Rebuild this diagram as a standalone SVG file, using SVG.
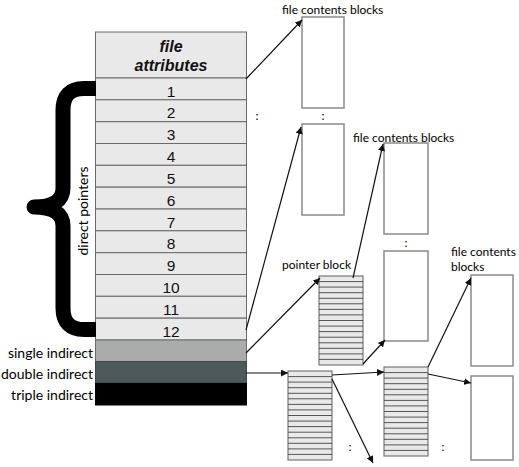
<svg xmlns="http://www.w3.org/2000/svg" xmlns:xlink="http://www.w3.org/1999/xlink" width="519" height="467" viewBox="0 0 519 467">
<style>
.row{fill:#e9e9e9;stroke:#6a6a6a;stroke-width:1}
.num{font-family:"Liberation Sans",Arial,sans-serif;font-size:15.5px;fill:#111;text-anchor:middle}
.attr{font-family:"Liberation Sans",Arial,sans-serif;font-size:16px;font-weight:bold;font-style:italic;fill:#111;text-anchor:middle}
.lbl{font-family:Lato,"Open Sans",sans-serif;font-size:12px;fill:#000}
.side{font-family:Lato,"Open Sans",sans-serif;font-size:14px;fill:#000;text-anchor:end}
.blk{fill:#fff;stroke:#8a8a8a;stroke-width:1.5}
.pb{fill:#e9e9e9;stroke:#777;stroke-width:1.2}
.pl{stroke:#444;stroke-width:0.9}
.con{stroke:#111;stroke-width:1.2;fill:none;marker-end:url(#ah)}
.brace{fill:none;stroke:#000;stroke-width:15;stroke-linejoin:round}
</style>
<defs>
<marker id="ah" viewBox="0 0 10 10" refX="10" refY="5" markerWidth="7" markerHeight="7" markerUnits="userSpaceOnUse" orient="auto">
<path d="M0,0 L10,5 L0,10 z" fill="#111"/>
</marker>
<g id="pblock">
<rect class="pb" x="0" y="0" width="44" height="89"/>
<line class="pl" x1="0" y1="5.6" x2="44" y2="5.6" stroke="#999"/>
<line class="pl" x1="0" y1="11.1" x2="44" y2="11.1"/>
<line class="pl" x1="0" y1="16.7" x2="44" y2="16.7"/>
<line class="pl" x1="0" y1="22.3" x2="44" y2="22.3"/>
<line class="pl" x1="0" y1="27.8" x2="44" y2="27.8"/>
<line class="pl" x1="0" y1="33.4" x2="44" y2="33.4"/>
<line class="pl" x1="0" y1="38.9" x2="44" y2="38.9"/>
<line class="pl" x1="0" y1="44.5" x2="44" y2="44.5"/>
<line class="pl" x1="0" y1="50.1" x2="44" y2="50.1"/>
<line class="pl" x1="0" y1="55.6" x2="44" y2="55.6"/>
<line class="pl" x1="0" y1="61.2" x2="44" y2="61.2"/>
<line class="pl" x1="0" y1="66.8" x2="44" y2="66.8"/>
<line class="pl" x1="0" y1="72.3" x2="44" y2="72.3"/>
<line class="pl" x1="0" y1="77.9" x2="44" y2="77.9"/>
<line class="pl" x1="0" y1="83.4" x2="44" y2="83.4"/>
</g>
</defs>
<rect width="519" height="467" fill="#fff"/>

<g id="inode">
<rect class="row" x="95.5" y="32" width="151" height="46"/>
<text class="attr" x="171" y="52">file</text>
<text class="attr" x="171" y="71">attributes</text>
<rect class="row" x="95.5" y="78" width="151" height="21.8"/><text class="num" x="171" y="96.5">1</text>
<rect class="row" x="95.5" y="99.8" width="151" height="21.8"/><text class="num" x="171" y="118.3">2</text>
<rect class="row" x="95.5" y="121.7" width="151" height="21.8"/><text class="num" x="171" y="140.2">3</text>
<rect class="row" x="95.5" y="143.5" width="151" height="21.8"/><text class="num" x="171" y="162">4</text>
<rect class="row" x="95.5" y="165.3" width="151" height="21.8"/><text class="num" x="171" y="183.8">5</text>
<rect class="row" x="95.5" y="187.2" width="151" height="21.8"/><text class="num" x="171" y="205.7">6</text>
<rect class="row" x="95.5" y="209" width="151" height="21.8"/><text class="num" x="171" y="227.5">7</text>
<rect class="row" x="95.5" y="230.8" width="151" height="21.8"/><text class="num" x="171" y="249.3">8</text>
<rect class="row" x="95.5" y="252.7" width="151" height="21.8"/><text class="num" x="171" y="271.2">9</text>
<rect class="row" x="95.5" y="274.5" width="151" height="21.8"/><text class="num" x="171" y="293">10</text>
<rect class="row" x="95.5" y="296.3" width="151" height="21.8"/><text class="num" x="171" y="314.8">11</text>
<rect class="row" x="95.5" y="318.2" width="151" height="21.8"/><text class="num" x="171" y="336.7">12</text>
<rect x="95.5" y="340" width="151" height="21.7" fill="#a9acaa" stroke="#6a6a6a"/>
<rect x="95.5" y="361.7" width="151" height="21.7" fill="#4e595c" stroke="#444"/>
<rect x="95.5" y="383.4" width="151" height="21.6" fill="#000" stroke="#000"/>
</g>

<g id="brace">
<path class="brace" d="M96,88.5 H84 Q63,88.5 63,110 V188 Q63,207 34,207 Q63,207 63,226 V308 Q63,329.5 84,329.5 H96"/>
<text class="lbl" style="font-size:14px" text-anchor="middle" transform="translate(88,211) rotate(-90)">direct pointers</text>
</g>

<g id="labels">
<text class="side" x="93" y="358">single indirect</text>
<text class="side" x="93" y="379">double indirect</text>
<text class="side" x="93" y="400">triple indirect</text>
<text class="lbl" x="282" y="14">file contents blocks</text>
<text class="lbl" x="353" y="142">file contents blocks</text>
<text class="lbl" x="282" y="269">pointer block</text>
<text class="lbl" x="451" y="256">file contents</text>
<text class="lbl" x="451" y="271">blocks</text>
<text class="lbl" x="257" y="120" text-anchor="middle">:</text>
<text class="lbl" x="323" y="120" text-anchor="middle">:</text>
<text class="lbl" x="406" y="247" text-anchor="middle">:</text>
<text class="lbl" x="350" y="451" text-anchor="middle">:</text>
<text class="lbl" x="443" y="451" text-anchor="middle">:</text>
</g>

<g id="block-a"><rect class="blk" x="302" y="17" width="42" height="91"/></g>
<g id="block-b"><rect class="blk" x="302" y="124" width="42" height="91"/></g>
<g id="block-c"><rect class="blk" x="384" y="143" width="44" height="91"/></g>
<g id="block-d"><rect class="blk" x="384" y="251" width="44" height="90"/></g>
<g id="block-e"><rect class="blk" x="471" y="275" width="42" height="91"/></g>
<g id="block-f"><rect class="blk" x="471" y="376" width="42" height="84"/></g>

<g id="pointer-block-1"><use xlink:href="#pblock" x="319" y="276"/></g>
<g id="pointer-block-2"><use xlink:href="#pblock" x="288" y="371"/></g>
<g id="pointer-block-3"><use xlink:href="#pblock" x="384" y="367"/></g>

<g id="connectors">
<line class="con" x1="246" y1="79" x2="302" y2="20"/>
<line class="con" x1="246" y1="330" x2="301" y2="127"/>
<line class="con" x1="246" y1="353" x2="320" y2="278"/>
<line class="con" x1="353" y1="278" x2="383" y2="144"/>
<line class="con" x1="363" y1="364" x2="385" y2="340"/>
<line class="con" x1="246" y1="373" x2="288" y2="373"/>
<line class="con" x1="332" y1="375" x2="384" y2="372"/>
<line class="con" x1="332" y1="379" x2="373" y2="463"/>
<line class="con" x1="428" y1="367" x2="471" y2="278"/>
<line class="con" x1="428" y1="374" x2="471" y2="383"/>
</g>
</svg>
